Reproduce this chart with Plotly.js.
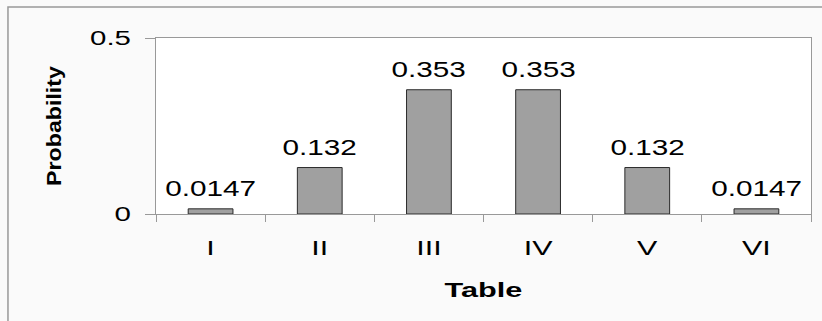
<!DOCTYPE html>
<html>
<head>
<meta charset="utf-8">
<script src="https://cdn.plot.ly/plotly-3.0.1.min.js"></script>
<style>
  html, body { margin: 0; padding: 0; background: #fafafa; }
  #chart { width: 822px; height: 321px; }
</style>
</head>
<body>
<div id="chart"></div>
<script>
// ---- data ----
const categories = ['I', 'II', 'III', 'IV', 'V', 'VI'];
const probabilities = [0.0147, 0.132, 0.353, 0.353, 0.132, 0.0147];
const valueLabels = ['0.0147', '0.132', '0.353', '0.353', '0.132', '0.0147'];
const yTickVals = [0, 0.5];
const yTickText = ['0', '0.5'];
const xTitle = 'Table';
const yTitle = 'Probability';

const FONT = '"Liberation Sans", Arial, sans-serif';

const trace = {
  type: 'bar',
  x: categories,
  y: probabilities,
  marker: { color: '#a0a0a0', line: { color: '#2a2a2a', width: 1 } },
  hoverinfo: 'skip'
};

const annotations = categories.map((c, i) => ({
  x: c, y: probabilities[i], xref: 'x', yref: 'y',
  text: valueLabels[i], showarrow: false,
  yanchor: 'bottom', xanchor: 'center', yshift: 6,
  font: { family: FONT, size: 22, color: '#000' }
}));

const layout = {
  width: 822, height: 321,
  margin: { l: 156, r: 11, t: 38, b: 107 },
  paper_bgcolor: '#fafafa',
  plot_bgcolor: '#ffffff',
  showlegend: false,
  bargap: 0.59,
  font: { family: FONT, color: '#000' },
  xaxis: {
    type: 'category',
    showline: true, mirror: true, linecolor: '#999', linewidth: 1,
    ticks: 'outside', tickson: 'boundaries', ticklen: 7, tickcolor: '#999',
    tickfont: { family: FONT, size: 21, color: '#000' },
    ticklabelstandoff: 15,
    showgrid: false, zeroline: false,
    title: { text: xTitle, standoff: 24, font: { family: FONT, size: 21, weight: 'bold', color: '#000' } }
  },
  yaxis: {
    range: [0, 0.5],
    tickvals: yTickVals, ticktext: yTickText,
    showline: true, mirror: true, linecolor: '#999', linewidth: 1,
    ticks: 'outside', ticklen: 10, tickcolor: '#999',
    tickfont: { family: FONT, size: 20, color: '#000' },
    ticklabelstandoff: 10,
    showgrid: false, zeroline: false,
    title: { text: yTitle, standoff: 36, font: { family: FONT, size: 20, weight: 'bold', color: '#000' } }
  },
  annotations: annotations,
  shapes: [{
    type: 'rect', xref: 'paper', yref: 'paper',
    x0: -0.226, x1: 1.2, y0: -0.7, y1: 1.176,
    line: { color: '#999', width: 1.5 }, fillcolor: 'rgba(0,0,0,0)', layer: 'below'
  }]
};

Plotly.newPlot('chart', [trace], layout, { staticPlot: true, responsive: false }).then(gd => {
  const stretch = (sel, f) => gd.querySelectorAll(sel).forEach(t => {
    const L = t.getComputedTextLength();
    t.setAttribute('textLength', (L * f).toFixed(1));
    t.setAttribute('lengthAdjust', 'spacingAndGlyphs');
  });
  stretch('.ytick text', 1.47);
  stretch('.xtick text', 1.45);
  stretch('.annotation-text', 1.35);
  stretch('.xtitle', 1.46);
  stretch('.ytitle', 1.16);
});
</script>
</body>
</html>
